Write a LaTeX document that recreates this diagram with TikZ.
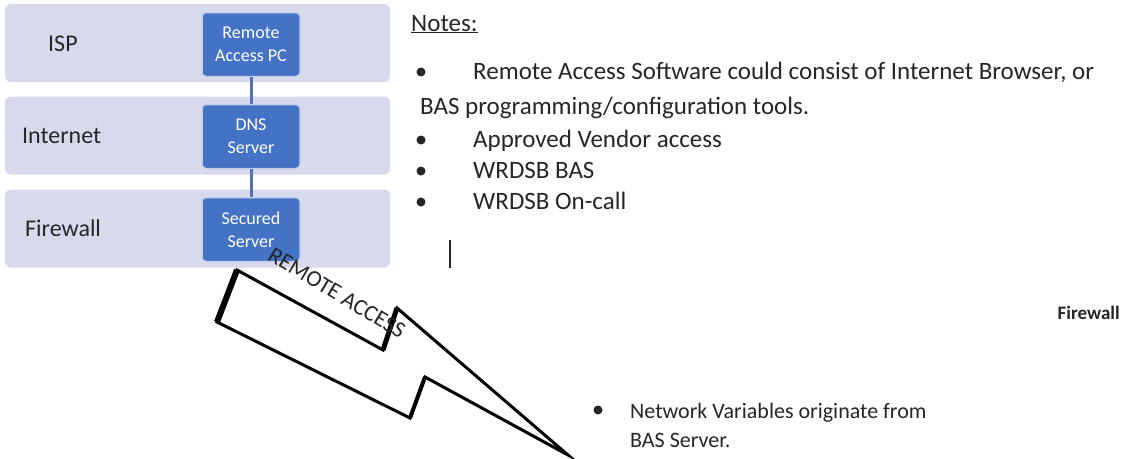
\documentclass[tikz,border=0pt]{standalone}
\usepackage{fontspec}
\setmainfont{Carlito}
\usepackage{tikz}
\definecolor{bandgray}{HTML}{D6DAEC}
\definecolor{srvblue}{HTML}{4472C4}
\definecolor{srvedge}{HTML}{C5D0EA}
\definecolor{linkblue}{HTML}{5B70B0}
\definecolor{txtgray}{HTML}{262626}

\begin{document}
\begin{tikzpicture}[x=1pt,y=-1pt,
  band/.style={fill=bandgray,rounded corners=6pt,minimum width=385pt,minimum height=78pt,inner sep=0pt},
  srv/.style={fill=srvblue,draw=srvedge,line width=1.5pt,rounded corners=4pt,minimum width=98pt,minimum height=64pt,text=white,align=center,font=\fontsize{18}{23}\selectfont,inner sep=0pt},
  lyr/.style={anchor=base west,font=\fontsize{24}{28}\selectfont,text=txtgray,inner sep=0pt},
  note/.style={anchor=base west,font=\fontsize{25}{30}\selectfont,text=txtgray,inner sep=0pt},
  dot/.style={circle,fill=txtgray,inner sep=0pt,minimum size=9pt},
  link/.style={linkblue,line width=3pt},
  bolt/.style={fill=white,draw=black,line width=3pt}]
\useasboundingbox (0,0) rectangle (1124,458);
\fill[white] (0,0) rectangle (1124,458);
% layers
\foreach \n/\y/\lx/\lab in {isp/43/48/ISP,inet/135.5/22/Internet,fw/228.5/25/Firewall} {
   \node[band] (band\n) at (197.5,\y) {};
   \node[lyr] (lab\n) at (\lx,\y+8) {\lab};
}
\node[srv] (pc) at (251,44.5) {Remote\\Access PC};
\node[srv] (dns) at (251,136.5) {DNS\\Server};
\node[srv] (sec) at (251,229.5) {Secured\\Server};
\draw[link] (pc) -- (dns);
\draw[link] (dns) -- (sec);
% notes
\node[note] (notes) at (411,31) {\underline{Notes:}};
\node[note] (n1) at (473,79) {Remote Access Software could consist of Internet Browser, or};
\node[note] (n1b) at (420,114) {BAS programming/configuration tools.};
\foreach \n/\y/\t in {n2/147/Approved Vendor access,n3/178/WRDSB BAS,n4/209/WRDSB On-call} {
   \node[note] (\n) at (473,\y) {\t};
}
\foreach \n/\y in {d1/72,d2/140,d3/171,d4/202} {
   \node[dot] (\n) at (421,\y) {};
}
\draw[txtgray,line width=1.2pt] (450,240) -- (450,268);
\node[anchor=base east,inner sep=0pt,text=txtgray,font=\bfseries\fontsize{19}{23}\selectfont] (fwnote) at (1120,319) {Firewall};
\node[dot] (d5) at (598,410) {};
\node[note,font=\fontsize{22}{26}\selectfont] (n5) at (630,418) {Network Variables originate from};
\node[note,font=\fontsize{22}{26}\selectfont] (n5b) at (630,447) {BAS Server.};
% lightning
\draw[bolt] (237,270) -- (217,322) -- (410,418) -- (425,377) -- (568,455) -- (397,308) -- (383,350) -- cycle;
\draw[line width=6pt] (237,270) -- (217,322);
\draw[line width=5pt] (397,308) -- (383,350);
\draw[line width=4pt] (410,418) -- (425,377);
\node[rotate=-31,inner sep=0pt,text=txtgray,font=\fontsize{23}{26}\selectfont] (ratext) at (337,293) {REMOTE ACCESS};
\end{tikzpicture}
\end{document}
